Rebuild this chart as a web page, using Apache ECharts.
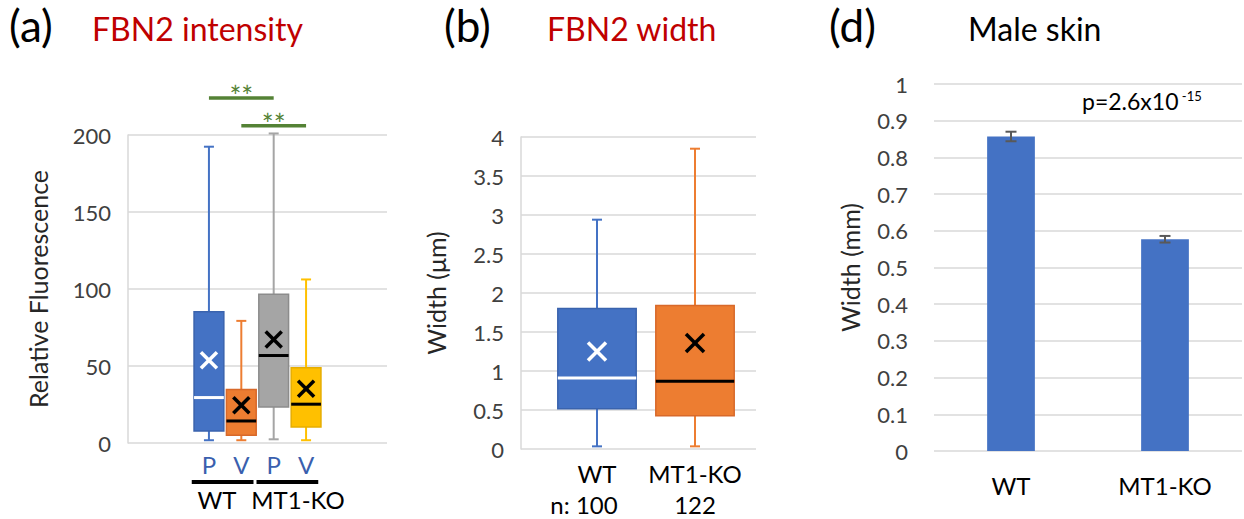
<!DOCTYPE html>
<html>
<head>
<meta charset="utf-8">
<script src="https://cdn.jsdelivr.net/npm/echarts@6/dist/echarts.min.js"></script>
<style>
  html, body { margin: 0; padding: 0; background: #fff; }
  #main { width: 1244px; height: 519px; }
</style>
</head>
<body>
<div id="main"></div>
<script>
// (a) FBN2 intensity
const intensityLabels = ['P', 'V', 'P', 'V'];
const intensityMin = [1.8, 1.8, 2.4, 1.8];
const intensityQ1 = [7.8, 5, 23.4, 10.4];
const intensityMedian = [29.5, 14.3, 56.8, 25.2];
const intensityQ3 = [85.2, 34.7, 96.6, 48.8];
const intensityMax = [192.4, 79.3, 201, 106.2];
const intensityMean = [53.8, 24.5, 67.2, 35.3];
const groupLabels = ['WT', 'MT1-KO'];
const groupSpans = [[0, 1], [2, 3]];
const sigPairs = [[0, 2], [1, 3]];
const sigLevel = [224, 206];
const sigText = ['**', '**'];

// (b) FBN2 width
const widthLabels = ['WT', 'MT1-KO'];
const widthN = [100, 122];
const widthMin = [0.034, 0.034];
const widthQ1 = [0.517, 0.427];
const widthMedian = [0.91, 0.867];
const widthQ3 = [1.80, 1.84];
const widthMax = [2.94, 3.85];
const widthMean = [1.25, 1.36];

// (d) male skin
const skinLabels = ['WT', 'MT1-KO'];
const skinMean = [0.857, 0.577];
const skinErr = [0.013, 0.009];

const FONT = 'Lato';
const PAD = 2;            // empty categories each side of panel (a)
const GROUP_SLOTS = 16;   // half-width slots for the WT / MT1-KO row under panel (a)
const GROUP_AT = [5, 10];
const GRID_LINE = { color: '#d9d9d9', width: 1.5 };

// colours
const boxFillA = ['#4472c4', '#ed7d31', '#a5a5a5', '#ffc000'];
const boxEdgeA = ['#3a63ad', '#d8692a', '#8c8c8c', '#e6ad00'];
const medianA = ['#ffffff', '#000000', '#000000', '#000000'];
const boxFillB = ['#4472c4', '#ed7d31'];
const boxEdgeB = ['#3a63ad', '#d8692a'];
const medianB = ['#ffffff', '#000000'];

function boxRenderer(fill, edge, median, widthFrac, markSize) {
  return function (params, api) {
    const i = params.dataIndex;
    const x = api.value(0);
    const pMin = api.coord([x, api.value(1)]);
    const pQ1 = api.coord([x, api.value(2)]);
    const pMed = api.coord([x, api.value(3)]);
    const pQ3 = api.coord([x, api.value(4)]);
    const pMax = api.coord([x, api.value(5)]);
    const pMean = api.coord([x, api.value(6)]);
    const cx = pMin[0];
    const bw = api.size([1, 0])[0] * widthFrac;
    const cap = 5;
    const h = markSize / 2;
    const wl = { stroke: fill[i], lineWidth: 2 };
    return {
      type: 'group',
      children: [
        { type: 'line', shape: { x1: cx, y1: pMax[1], x2: cx, y2: pMin[1] }, style: wl },
        { type: 'line', shape: { x1: cx - cap, y1: pMax[1], x2: cx + cap, y2: pMax[1] }, style: wl },
        { type: 'line', shape: { x1: cx - cap, y1: pMin[1], x2: cx + cap, y2: pMin[1] }, style: wl },
        {
          type: 'rect',
          shape: { x: cx - bw / 2, y: pQ3[1], width: bw, height: pQ1[1] - pQ3[1] },
          style: { fill: fill[i], stroke: edge[i], lineWidth: 1.5 }
        },
        {
          type: 'line',
          shape: { x1: cx - bw / 2, y1: pMed[1], x2: cx + bw / 2, y2: pMed[1] },
          style: { stroke: median[i], lineWidth: 3 }
        },
        {
          type: 'line',
          shape: { x1: cx - h, y1: pMean[1] - h, x2: cx + h, y2: pMean[1] + h },
          style: { stroke: median[i], lineWidth: 3.5 }
        },
        {
          type: 'line',
          shape: { x1: cx - h, y1: pMean[1] + h, x2: cx + h, y2: pMean[1] - h },
          style: { stroke: median[i], lineWidth: 3.5 }
        }
      ]
    };
  };
}

const intensityRows = intensityLabels.map((_, i) => [
  i + PAD, intensityMin[i], intensityQ1[i], intensityMedian[i], intensityQ3[i], intensityMax[i], intensityMean[i]
]);
const widthRows = widthLabels.map((_, i) => [
  i, widthMin[i], widthQ1[i], widthMedian[i], widthQ3[i], widthMax[i], widthMean[i]
]);
const sigRows = sigPairs.map((p, i) => [p[0] + PAD, p[1] + PAD, sigLevel[i]]);
const spanRows = groupSpans.map(s => [s[0] + PAD, s[1] + PAD, 0]);
const errRows = skinLabels.map((_, i) => [i, skinMean[i] - skinErr[i], skinMean[i] + skinErr[i]]);

const padCats = new Array(PAD).fill('');
const groupCats = new Array(GROUP_SLOTS).fill('');
GROUP_AT.forEach((k, i) => { groupCats[k] = groupLabels[i]; });

const yLabel = { fontSize: 22, color: '#404040', fontFamily: FONT };
const yName = { fontSize: 25, color: '#262626', fontFamily: FONT };
const xLabel = { interval: 0, fontSize: 24, color: '#000', fontFamily: FONT };
const nLine = { fontSize: 24, color: '#000', fontFamily: FONT, lineHeight: 31 };
const panelTag = { fontSize: 44, fontWeight: 'normal', color: '#000' };
const panelTitle = { fontSize: 32, fontWeight: 'normal', color: '#c00000' };

const chart = echarts.init(document.getElementById('main'), null, { renderer: 'svg' });
chart.setOption({
  animation: false,
  backgroundColor: '#fff',
  textStyle: { fontFamily: FONT },
  title: [
    { text: '(a)', left: 9, top: 3, padding: 0, textStyle: panelTag },
    { text: 'FBN2 intensity', left: 92, top: 12, padding: 0, textStyle: panelTitle },
    { text: '(b)', left: 444, top: 3, padding: 0, textStyle: panelTag },
    { text: 'FBN2 width', left: 547, top: 12, padding: 0, textStyle: panelTitle },
    { text: '(d)', left: 829, top: 3, padding: 0, textStyle: panelTag },
    { text: 'Male skin', left: 968, top: 12, padding: 0, textStyle: Object.assign({}, panelTitle, { color: '#000' }) },
    {
      text: '{a|p=2.6x10}{b| -15}', left: 1082, top: 89, padding: 0,
      textStyle: {
        fontWeight: 'normal',
        rich: {
          a: { fontSize: 23, color: '#000', fontFamily: FONT, fontWeight: 'normal' },
          b: { fontSize: 13, color: '#000', fontFamily: FONT, fontWeight: 'normal', verticalAlign: 'top' }
        }
      }
    }
  ],
  grid: [
    { left: 128, top: 135, width: 259, height: 308, outerBoundsMode: 'none' },
    { left: 521, top: 137, width: 235, height: 312, outerBoundsMode: 'none' },
    { left: 548, top: 137, width: 196, height: 312, outerBoundsMode: 'none' },
    { left: 934, top: 84, width: 308, height: 367, outerBoundsMode: 'none' }
  ],
  xAxis: [
    {
      gridIndex: 0, type: 'category', position: 'bottom', data: [...padCats, ...intensityLabels, ...padCats],
      axisLine: { show: false }, axisTick: { show: false },
      axisLabel: Object.assign({}, xLabel, { color: '#3a5fae', margin: 9 })
    },
    {
      gridIndex: 0, type: 'category', position: 'bottom', offset: 0, data: groupCats,
      axisLine: { show: false }, axisTick: { show: false },
      axisLabel: Object.assign({}, xLabel, { margin: 44, hideOverlap: false })
    },
    { gridIndex: 1, type: 'value', show: false, min: 0, max: 1 },
    {
      gridIndex: 2, type: 'category', data: widthLabels,
      axisLine: { show: false }, axisTick: { show: false },
      axisLabel: Object.assign({}, xLabel, {
        margin: 9, lineHeight: 31,
        formatter: (v, i) => v + '\n{' + (i === 0 ? 'l|n: ' : 'r|') + widthN[i] + '}',
        rich: {
          l: Object.assign({ padding: [0, 26, 0, 0] }, nLine),
          r: Object.assign({}, nLine)
        }
      })
    },
    {
      gridIndex: 3, type: 'category', data: skinLabels,
      axisLine: { show: false }, axisTick: { show: false },
      axisLabel: Object.assign({}, xLabel, { margin: 22 })
    }
  ],
  yAxis: [
    {
      gridIndex: 0, type: 'value', min: 0, max: 200, interval: 50,
      name: 'Relative Fluorescence', nameLocation: 'middle', nameGap: 78, nameTextStyle: yName,
      axisLine: { show: true, lineStyle: GRID_LINE }, axisTick: { show: false },
      axisLabel: Object.assign({ margin: 17 }, yLabel),
      splitLine: { lineStyle: GRID_LINE }
    },
    {
      gridIndex: 1, type: 'value', min: 0, max: 4, interval: 0.5,
      name: 'Width (μm)', nameLocation: 'middle', nameGap: 73, nameTextStyle: yName,
      axisLine: { show: true, lineStyle: GRID_LINE }, axisTick: { show: false },
      axisLabel: Object.assign({ margin: 17 }, yLabel),
      splitLine: { lineStyle: GRID_LINE }
    },
    { gridIndex: 2, type: 'value', min: 0, max: 4, show: false },
    {
      gridIndex: 3, type: 'value', min: 0, max: 1, interval: 0.1,
      name: 'Width (mm)', nameLocation: 'middle', nameGap: 72, nameTextStyle: yName,
      axisLine: { show: false }, axisTick: { show: false },
      axisLabel: Object.assign({ margin: 26 }, yLabel),
      splitLine: { lineStyle: GRID_LINE }
    }
  ],
  series: [
    {
      name: 'FBN2 intensity', type: 'custom', xAxisIndex: 0, yAxisIndex: 0,
      data: intensityRows, encode: { x: 0, y: [1, 2, 3, 4, 5, 6] },
      renderItem: boxRenderer(boxFillA, boxEdgeA, medianA, 0.92, 16)
    },
    {
      name: 'significance', type: 'custom', xAxisIndex: 0, yAxisIndex: 0, clip: false,
      data: sigRows, encode: { x: [0, 1], y: 2 },
      renderItem: function (params, api) {
        const a = api.coord([api.value(0), api.value(2)]);
        const b = api.coord([api.value(1), api.value(2)]);
        return {
          type: 'group',
          children: [
            { type: 'line', shape: { x1: a[0], y1: a[1], x2: b[0], y2: b[1] }, style: { stroke: '#548235', lineWidth: 3.5 } },
            {
              type: 'text',
              style: {
                text: sigText[params.dataIndex], x: (a[0] + b[0]) / 2, y: a[1] + 12,
                align: 'center', verticalAlign: 'bottom', fill: '#548235', fontSize: 28, fontFamily: FONT
              }
            }
          ]
        };
      }
    },
    {
      name: 'groups', type: 'custom', xAxisIndex: 0, yAxisIndex: 0, clip: false,
      data: spanRows, encode: { x: [0, 1], y: 2 },
      renderItem: function (params, api) {
        const a = api.coord([api.value(0), api.value(2)]);
        const b = api.coord([api.value(1), api.value(2)]);
        const half = api.size([1, 0])[0] / 2;
        return {
          type: 'line',
          shape: { x1: a[0] - half - 1, y1: a[1] + 39, x2: b[0] + half - 4, y2: b[1] + 39 },
          style: { stroke: '#000', lineWidth: 4 }
        };
      }
    },
    {
      name: 'FBN2 width', type: 'custom', xAxisIndex: 3, yAxisIndex: 2,
      data: widthRows, encode: { x: 0, y: [1, 2, 3, 4, 5, 6] },
      renderItem: boxRenderer(boxFillB, boxEdgeB, medianB, 0.8, 18)
    },
    {
      name: 'Male skin', type: 'bar', xAxisIndex: 4, yAxisIndex: 3,
      data: skinMean, barWidth: '31%', itemStyle: { color: '#4472c4' }
    },
    {
      name: 'error', type: 'custom', xAxisIndex: 4, yAxisIndex: 3,
      data: errRows, encode: { x: 0, y: [1, 2] }, z: 5,
      renderItem: function (params, api) {
        const lo = api.coord([api.value(0), api.value(1)]);
        const hi = api.coord([api.value(0), api.value(2)]);
        const c = 5.5;
        const st = { stroke: '#595959', lineWidth: 2 };
        return {
          type: 'group',
          children: [
            { type: 'line', shape: { x1: lo[0], y1: lo[1], x2: hi[0], y2: hi[1] }, style: st },
            { type: 'line', shape: { x1: lo[0] - c, y1: lo[1], x2: lo[0] + c, y2: lo[1] }, style: st },
            { type: 'line', shape: { x1: hi[0] - c, y1: hi[1], x2: hi[0] + c, y2: hi[1] }, style: st }
          ]
        };
      }
    }
  ]
});
</script>
</body>
</html>
